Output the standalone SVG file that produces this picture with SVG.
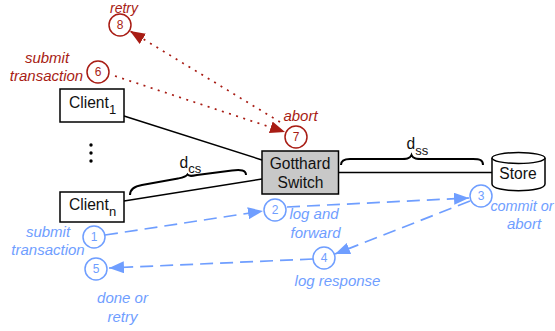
<svg xmlns="http://www.w3.org/2000/svg" width="555" height="331" viewBox="0 0 555 331">
<style>
text{font-family:"Liberation Sans",Arial,sans-serif}
.n{fill:#fff;stroke:#000;stroke-width:1.5}
.t{font-size:15.600px;fill:#111;text-anchor:middle}
.s{font-size:15.600px;fill:#111}
.sub{font-size:13px}
.l{stroke:#000;stroke-width:1.5;fill:none}
.br{stroke:#000;stroke-width:2;fill:none}
.rc{fill:#fff;stroke:#a81c14;stroke-width:1.5}
.bc{fill:#fff;stroke:#6f9eff;stroke-width:1.5}
.rt{font-size:15px;font-style:italic;fill:#a81c14;text-anchor:middle}
.bt{font-size:15px;font-style:italic;fill:#6f9eff;text-anchor:middle}
.rn{font-size:12px;fill:#a81c14;text-anchor:middle}
.bn{font-size:12px;fill:#6f9eff;text-anchor:middle}
.rd{stroke:#a81c14;stroke-width:1.700;stroke-dasharray:2 5.500;fill:none}
.bd{stroke:#6f9eff;stroke-width:1.700;stroke-dasharray:13 7;fill:none}
</style>
<defs>
<marker id="ra" markerUnits="userSpaceOnUse" markerWidth="16" markerHeight="12" refX="15" refY="6" orient="auto"><path d="M0 0L15 6L0 12z" fill="#a81c14"/></marker>
<marker id="ba" markerUnits="userSpaceOnUse" markerWidth="16" markerHeight="12" refX="15" refY="6" orient="auto"><path d="M0 0L15 6L0 12z" fill="#6f9eff"/></marker>
</defs>
<g id="connectors">
<path class="l" d="M124 116L262 160M124 201L262 179M338 172.500H492"/>
<path class="br" d="M130 195C130 188 136 186 142 185L178 178.500C183 177.500 186 177 187.500 174.500C189 176.500 192 176 197 175L232 170.500C241 169.500 246 170 246 175"/>
<path class="br" d="M341 165C341 160 345 159 350 159H400C406 159 410 159 411.500 155C413 159 417 159 423 159H473C480 159 483 160 483 165"/>
<path class="rd" marker-end="url(#ra)" d="M280 122L130 31"/>
<path class="rd" marker-end="url(#ra)" d="M115 76L285 132"/>
<path class="bd" marker-end="url(#ba)" d="M105 235L263 211"/>
<path class="bd" marker-end="url(#ba)" d="M287 207L469 198"/>
<path class="bd" marker-end="url(#ba)" d="M470 201L335 254"/>
<path class="bd" marker-end="url(#ba)" d="M313 259L109 268"/>
</g>
<g id="client1"><rect class="n" x="60" y="89" width="64" height="33"/><text class="s" x="69" y="108">Client<tspan class="sub" dy="6">1</tspan></text></g>
<g id="dots"><circle cx="91" cy="145" r="1.700"/><circle cx="91" cy="153" r="1.700"/><circle cx="91" cy="161" r="1.700"/></g>
<g id="clientn"><rect class="n" x="60" y="192" width="64" height="30"/><text class="s" x="69" y="210">Client<tspan class="sub" dy="6">n</tspan></text></g>
<g id="switch"><rect x="262" y="151" width="76.500" height="43" fill="#c8c8c8" stroke="#000" stroke-width="1.500"/><text class="t" x="300" y="169">Gotthard</text><text class="t" x="300.500" y="188">Switch</text></g>
<g id="store"><path d="M492 158V184C492 193 545 193 545 184V158" fill="#fff" stroke="#000" stroke-width="1.500"/><ellipse cx="518.500" cy="158" rx="26.500" ry="5.500" fill="#fff" stroke="#000" stroke-width="1.500"/><text class="t" x="518" y="179">Store</text></g>
<g id="dcs"><text class="s" x="179.500" y="168">d<tspan class="sub" dy="5">cs</tspan></text></g>
<g id="dss"><text class="s" x="406.500" y="149">d<tspan class="sub" dy="6">ss</tspan></text></g>
<g id="step8"><circle class="rc" cx="120" cy="25" r="11"/><text class="rn" x="120" y="29">8</text><text class="rt" style="font-size:14px" x="124" y="13">retry</text></g>
<g id="step6"><circle class="rc" cx="98" cy="72" r="11"/><text class="rn" x="98" y="76">6</text><text class="rt" x="47" y="63">submit</text><text class="rt" x="46.500" y="81">transaction</text></g>
<g id="step7"><circle class="rc" cx="296" cy="137" r="11"/><text class="rn" x="296" y="141">7</text><text class="rt" x="300.500" y="121">abort</text></g>
<g id="step1"><circle class="bc" cx="94" cy="237" r="11"/><text class="bn" x="94" y="241">1</text><text class="bt" x="48" y="237">submit</text><text class="bt" x="48" y="255">transaction</text></g>
<g id="step2"><circle class="bc" cx="275" cy="210" r="11"/><text class="bn" x="275" y="214">2</text><text class="bt" x="314" y="219">log and</text><text class="bt" x="315.500" y="238">forward</text></g>
<g id="step3"><circle class="bc" cx="481" cy="196" r="11"/><text class="bn" x="481" y="200">3</text><text class="bt" style="font-size:14.400px" x="522" y="211">commit or</text><text class="bt" x="524" y="229">abort</text></g>
<g id="step4"><circle class="bc" cx="324" cy="258" r="11"/><text class="bn" x="324" y="262">4</text><text class="bt" x="337.500" y="286">log response</text></g>
<g id="step5"><circle class="bc" cx="96" cy="269" r="11"/><text class="bn" x="96" y="273">5</text><text class="bt" x="122.500" y="303">done or</text><text class="bt" x="122.500" y="322">retry</text></g>
</svg>
